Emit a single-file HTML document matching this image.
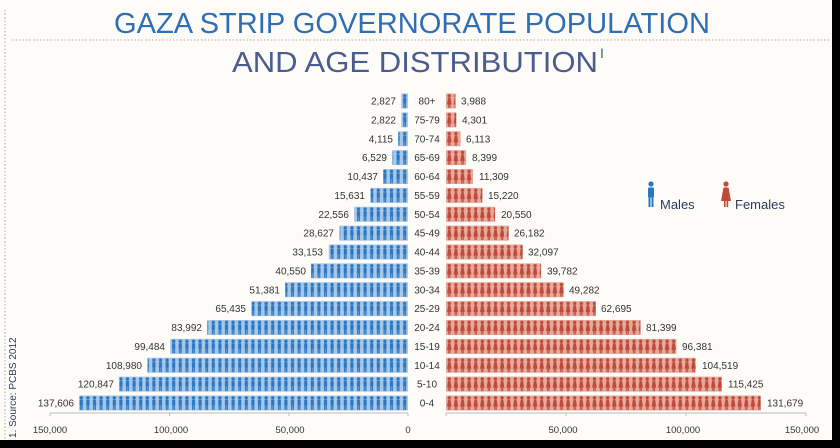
<!DOCTYPE html>
<html><head><meta charset="utf-8"><style>
html,body{margin:0;padding:0;background:#000;}
svg{display:block;font-family:"Liberation Sans",sans-serif;}
</style></head><body>
<svg width="840" height="448" viewBox="0 0 840 448" xmlns="http://www.w3.org/2000/svg">
<defs>
<pattern id="pm" patternUnits="userSpaceOnUse" x="408" y="93.5" width="6.6" height="18.875">
<rect x="0" y="0" width="6.6" height="18.875" fill="#a8c6e6"/>
<circle cx="3.3" cy="2.3" r="1.7" fill="#2a78c4"/>
<rect x="1.7" y="4.2" width="3.2" height="5.6" rx="0.6" fill="#2a78c4"/>
<rect x="1.9" y="9.2" width="1.2" height="5.3" fill="#2a78c4"/>
<rect x="3.5" y="9.2" width="1.2" height="5.3" fill="#2a78c4"/>
</pattern>
<pattern id="pf" patternUnits="userSpaceOnUse" x="446" y="93.5" width="6.6" height="18.875">
<rect x="0" y="0" width="6.6" height="18.875" fill="#e6aa9c"/>
<circle cx="3.3" cy="2.3" r="1.7" fill="#c1493a"/>
<path d="M2.1 4.2 H4.5 L5.6 11 H1.0 Z" fill="#c1493a"/>
<rect x="2.1" y="10.5" width="1" height="4" fill="#c1493a"/>
<rect x="3.5" y="10.5" width="1" height="4" fill="#c1493a"/>
</pattern>
</defs>
<rect x="0" y="0" width="832" height="440" fill="#fdfcf8"/>
<line x1="5" y1="10" x2="5" y2="440" stroke="#b8b8b8" stroke-width="1.2" stroke-dasharray="1.5,2"/>
<line x1="12" y1="40" x2="830" y2="40" stroke="#b8b8b8" stroke-width="1.2" stroke-dasharray="1.5,2"/>
<text x="412" y="33" text-anchor="middle" font-size="29" fill="#2f6eb2" textLength="596" lengthAdjust="spacingAndGlyphs">GAZA STRIP GOVERNORATE POPULATION</text>
<text x="232" y="72" font-size="29" fill="#4b5c8e" textLength="366" lengthAdjust="spacingAndGlyphs">AND AGE DISTRIBUTION</text>
<text x="600" y="58" font-size="14" fill="#4b5c8e">I</text>
<text transform="translate(16,438) rotate(-90)" font-size="10" fill="#2d3a5a">1. Source: PCBS 2012</text>

<g fill="#2a78c4"><circle cx="651" cy="184" r="2.6"/><rect x="648" y="187.5" width="6" height="10" rx="1"/><rect x="648.5" y="196" width="2" height="11"/><rect x="651.5" y="196" width="2" height="11"/></g>
<text x="660" y="209" font-size="13" fill="#2d3a5a">Males</text>
<g fill="#c1493a"><circle cx="726" cy="184" r="2.6"/><path d="M723.5 187.5 H728.5 L731 201 H721 Z"/><rect x="724" y="200" width="1.6" height="7"/><rect x="726.6" y="200" width="1.6" height="7"/></g>
<text x="735" y="209" font-size="13" fill="#2d3a5a">Females</text>

<g font-size="10" fill="#333">
<g fill="url(#pm)">
<rect x="401.2" y="93.5" width="6.8" height="15"/>
<rect x="401.3" y="112.375" width="6.7" height="15"/>
<rect x="398.2" y="131.25" width="9.8" height="15"/>
<rect x="392.4" y="150.125" width="15.6" height="15"/>
<rect x="383.1" y="169" width="24.9" height="15"/>
<rect x="370.6" y="187.875" width="37.4" height="15"/>
<rect x="354.1" y="206.75" width="53.9" height="15"/>
<rect x="339.6" y="225.625" width="68.4" height="15"/>
<rect x="328.8" y="244.5" width="79.2" height="15"/>
<rect x="311.1" y="263.375" width="96.9" height="15"/>
<rect x="285.2" y="282.25" width="122.8" height="15"/>
<rect x="251.6" y="301.125" width="156.4" height="15"/>
<rect x="207.3" y="320" width="200.7" height="15"/>
<rect x="170.2" y="338.875" width="237.8" height="15"/>
<rect x="147.5" y="357.75" width="260.5" height="15"/>
<rect x="119.2" y="376.625" width="288.8" height="15"/>
<rect x="79.1" y="395.5" width="328.9" height="15"/>
</g>
<g fill="url(#pf)">
<rect x="446" y="93.5" width="9.5" height="15"/>
<rect x="446" y="112.375" width="10.3" height="15"/>
<rect x="446" y="131.25" width="14.6" height="15"/>
<rect x="446" y="150.125" width="20.1" height="15"/>
<rect x="446" y="169" width="27" height="15"/>
<rect x="446" y="187.875" width="36.4" height="15"/>
<rect x="446" y="206.75" width="49.1" height="15"/>
<rect x="446" y="225.625" width="62.6" height="15"/>
<rect x="446" y="244.5" width="76.7" height="15"/>
<rect x="446" y="263.375" width="95.1" height="15"/>
<rect x="446" y="282.25" width="117.8" height="15"/>
<rect x="446" y="301.125" width="149.8" height="15"/>
<rect x="446" y="320" width="194.5" height="15"/>
<rect x="446" y="338.875" width="230.4" height="15"/>
<rect x="446" y="357.75" width="249.8" height="15"/>
<rect x="446" y="376.625" width="275.9" height="15"/>
<rect x="446" y="395.5" width="314.7" height="15"/>
</g>
<g text-anchor="end">
<text x="396" y="104.5">2,827</text>
<text x="396" y="123.4">2,822</text>
<text x="393" y="142.3">4,115</text>
<text x="387" y="161.1">6,529</text>
<text x="378" y="180">10,437</text>
<text x="365" y="198.9">15,631</text>
<text x="349" y="217.8">22,556</text>
<text x="334" y="236.6">28,627</text>
<text x="323" y="255.5">33,153</text>
<text x="306" y="274.4">40,550</text>
<text x="280" y="293.3">51,381</text>
<text x="246" y="312.1">65,435</text>
<text x="202" y="331">83,992</text>
<text x="165" y="349.9">99,484</text>
<text x="142" y="368.8">108,980</text>
<text x="114" y="387.6">120,847</text>
<text x="74" y="406.5">137,606</text>
</g>
<g text-anchor="middle">
<text x="427" y="104.5">80+</text>
<text x="427" y="123.4">75-79</text>
<text x="427" y="142.3">70-74</text>
<text x="427" y="161.1">65-69</text>
<text x="427" y="180">60-64</text>
<text x="427" y="198.9">55-59</text>
<text x="427" y="217.8">50-54</text>
<text x="427" y="236.6">45-49</text>
<text x="427" y="255.5">40-44</text>
<text x="427" y="274.4">35-39</text>
<text x="427" y="293.3">30-34</text>
<text x="427" y="312.1">25-29</text>
<text x="427" y="331">20-24</text>
<text x="427" y="349.9">15-19</text>
<text x="427" y="368.8">10-14</text>
<text x="427" y="387.6">5-10</text>
<text x="427" y="406.5">0-4</text>
</g>
<g>
<text x="461" y="104.5">3,988</text>
<text x="462" y="123.4">4,301</text>
<text x="466" y="142.3">6,113</text>
<text x="472" y="161.1">8,399</text>
<text x="479" y="180">11,309</text>
<text x="488" y="198.9">15,220</text>
<text x="501" y="217.8">20,550</text>
<text x="514" y="236.6">26,182</text>
<text x="528" y="255.5">32,097</text>
<text x="547" y="274.4">39,782</text>
<text x="569" y="293.3">49,282</text>
<text x="601" y="312.1">62,695</text>
<text x="646" y="331">81,399</text>
<text x="682" y="349.9">96,381</text>
<text x="702" y="368.8">104,519</text>
<text x="728" y="387.6">115,425</text>
<text x="767" y="406.5">131,679</text>
</g>
<g stroke="#bbb" stroke-width="1">
<line x1="50" y1="413" x2="408" y2="413"/>
<line x1="50" y1="413" x2="50" y2="416"/><line x1="169.5" y1="413" x2="169.5" y2="416"/><line x1="289" y1="413" x2="289" y2="416"/><line x1="408" y1="413" x2="408" y2="416"/>
<line x1="446" y1="413" x2="806" y2="413"/>
<line x1="446" y1="413" x2="446" y2="416"/><line x1="566" y1="413" x2="566" y2="416"/><line x1="686" y1="413" x2="686" y2="416"/><line x1="806" y1="413" x2="806" y2="416"/>
</g>
<g text-anchor="middle" font-size="9.5">
<text x="50" y="433">150,000</text>
<text x="171" y="433">100,000</text>
<text x="290" y="433">50,000</text>
<text x="408" y="433">0</text>
<text x="563" y="433">50,000</text>
<text x="683" y="433">100,000</text>
<text x="802" y="433">150,000</text>
</g>
</g>
</svg>
</body></html>
